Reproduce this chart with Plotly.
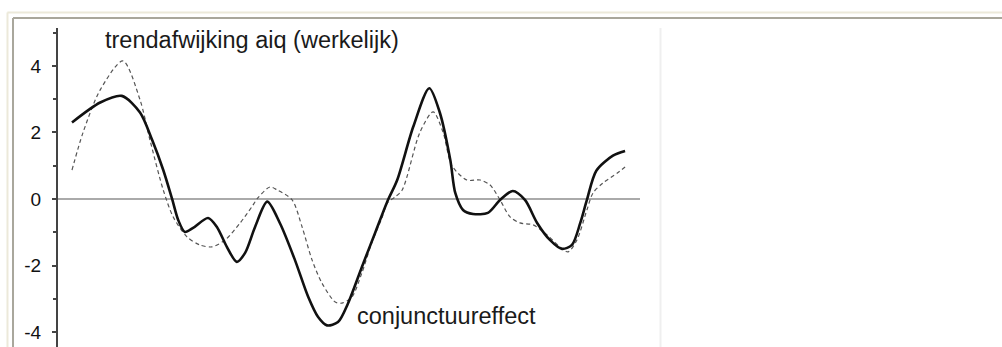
import plotly.graph_objects as go

# --- data (t = time index, arbitrary units) ---
t_actual = [0, 5.1, 9.0, 12.3, 14.5, 16.5, 18.1, 19.2, 20.4, 21.9, 24.6, 26.2, 28.0,
            29.8, 31.3, 33.1, 35.3, 37.6, 40.3, 42.7, 44.5, 46.1, 48.1, 49.9, 52.4,
            54.8, 57.0, 58.8, 61.7, 64.6, 66.5, 68.4, 69.3, 70.7, 72.5, 75.2, 77.4,
            79.7, 81.9, 84.1, 86.4, 88.6, 90.4, 91.9, 93.1, 94.8, 97.8, 100]
v_actual = [2.3, 2.9, 3.1, 2.6, 1.77, 0.87, 0.0, -0.63, -0.99, -0.87, -0.57, -0.84, -1.44,
            -1.89, -1.62, -0.84, -0.08, -0.73, -1.83, -2.94, -3.55, -3.8, -3.7, -3.14, -2.05,
            -1.02, -0.08, 0.57, 2.17, 3.33, 2.6, 1.17, 0.18, -0.33, -0.45, -0.42, -0.03,
            0.24, -0.03, -0.72, -1.23, -1.5, -1.38, -0.72, -0.03, 0.85, 1.3, 1.44]

t_cycle = [0, 2.0, 5.1, 9.2, 12.3, 14.1, 16.5, 18.3, 20.8, 23.1, 25.3, 27.7, 30.4,
           32.5, 33.6, 35.8, 37.1, 39.8, 41.6, 43.4, 45.2, 47.6, 48.8, 50.6, 52.4,
           54.2, 56.1, 57.0, 58.4, 59.7, 62.9, 65.3, 67.1, 68.7, 71.4, 73.8, 75.6,
           77.4, 79.2, 81.0, 83.4, 85.9, 88.2, 89.7, 91.3, 93.1, 94.2, 96.0, 98.6, 100]
v_cycle = [0.87, 2.0, 3.28, 4.15, 2.98, 1.77, 0.27, -0.54, -1.14, -1.38, -1.44, -1.23, -0.72,
           -0.24, 0.03, 0.36, 0.27, -0.03, -0.84, -1.83, -2.53, -3.1, -3.13, -2.95, -2.23,
           -1.32, -0.54, -0.12, 0.06, 0.27, 2.0, 2.62, 2.0, 1.0, 0.57, 0.57, 0.42,
           -0.03, -0.54, -0.72, -0.78, -1.08, -1.44, -1.59, -1.23, -0.33, 0.18, 0.48, 0.78, 0.96]

y_ticks = [-4, -2, 0, 2, 4]
label_actual = "trendafwijking aiq (werkelijk)"
label_cycle = "conjunctuureffect"

FONT = "Liberation Sans, Arial, sans-serif"

fig = go.Figure()
fig.add_trace(go.Scatter(x=t_cycle, y=v_cycle, mode="lines",
                         line=dict(color="#555555", width=1.2, dash="4px,3px", shape="spline",
                                   smoothing=0.8),
                         showlegend=False, hoverinfo="skip"))
fig.add_trace(go.Scatter(x=t_actual, y=v_actual, mode="lines",
                         line=dict(color="#111111", width=2.6, shape="spline", smoothing=0.8),
                         showlegend=False, hoverinfo="skip"))

fig.add_annotation(x=5.6, y=4.78, xref="x", yref="y", text=label_actual,
                   showarrow=False, xanchor="left", yanchor="middle",
                   font=dict(family=FONT, size=23.5, color="#1a1a1a"))
fig.add_annotation(x=51.2, y=-3.52, xref="x", yref="y", text=label_cycle,
                   showarrow=False, xanchor="left", yanchor="middle",
                   font=dict(family=FONT, size=23.5, color="#1a1a1a"))

# frame lines (outer window border) in paper coordinates
shapes = [
    dict(type="line", xref="paper", yref="paper", x0=-0.087, x1=1.7, y0=1.0486, y1=1.0486,
         line=dict(color="#ECE9DA", width=2)),
    dict(type="line", xref="paper", yref="paper", x0=-0.0868, x1=-0.0868, y0=-0.1, y1=1.0486,
         line=dict(color="#ECE9DA", width=2)),
    dict(type="line", xref="paper", yref="paper", x0=-0.0773, x1=1.7, y0=1.0313, y1=1.0313,
         line=dict(color="#A9A79C", width=2)),
    dict(type="line", xref="paper", yref="paper", x0=-0.0773, x1=-0.0773, y0=-0.1, y1=1.0313,
         line=dict(color="#A9A79C", width=2)),
    dict(type="line", xref="paper", yref="paper", x0=1.0352, x1=1.0352, y0=-0.1, y1=1.0,
         line=dict(color="#EFEFEF", width=2)),
]

fig.update_layout(
    width=1002, height=347,
    margin=dict(l=58, r=362, t=28, b=0, pad=0),
    paper_bgcolor="white", plot_bgcolor="white",
    shapes=shapes,
    xaxis=dict(visible=False, range=[-2.53, 102.7]),
    yaxis=dict(range=[-4.45, 5.14], tickvals=y_ticks, ticktext=[str(v) for v in y_ticks],
               showgrid=False, showline=True, linecolor="#444444", linewidth=2,
               ticks="outside", ticklen=4, tickwidth=2, tickcolor="#444444",
               ticklabelstandoff=7,
               tickfont=dict(family=FONT, size=19, color="#111111"),
               zeroline=True, zerolinecolor="#AAAAAA", zerolinewidth=2,
               minor=dict(dtick=1, tick0=1, ticks="outside", ticklen=3, tickwidth=2,
                          tickcolor="#444444", showgrid=False)),
)

fig.write_html("out.html",
               config={"displayModeBar": False, "staticPlot": True},
               post_script="document.body.style.margin='0';document.body.style.overflow='hidden';")
